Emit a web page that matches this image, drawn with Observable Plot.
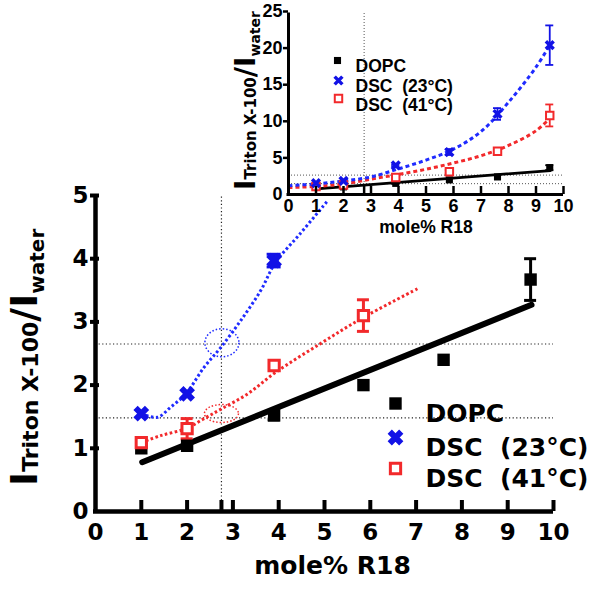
<!DOCTYPE html>
<html><head><meta charset="utf-8">
<script src="https://cdn.jsdelivr.net/npm/d3@7"></script>
<script src="https://cdn.jsdelivr.net/npm/@observablehq/plot@0.6"></script>
<style>
html,body{margin:0;padding:0;background:#fff;}
#wrap{position:relative;width:600px;height:589px;overflow:hidden;background:#fff;}
#wrap svg{position:absolute;}
</style></head><body><div id="wrap"></div>
<script>
// ---- data ----
const molePct   = [1, 2, 3.9, 5.85, 7.6, 9.5];
const dopcY     = [1.0, 1.04, 1.52, 2.0, 2.4, 3.67];
const dopcErr   = [0, 0, 0.07, 0, 0, 0.33];
const dsc23Y    = [1.55, 1.86, 3.97, 5.8, 11.0, 20.4];
const dsc23Err  = [0, 0, 0.1, 0.4, 0.8, 2.7];
const dsc41Y    = [1.09, 1.31, 2.31, 3.1, 5.9, 10.8];
const dsc41Err  = [0, 0.16, 0, 0.25, 0.2, 1.5];

// fitted lines as drawn in the figure
const dopcFitX  = [1.02, 9.52];
const dopcFitY  = [0.78, 3.27];
const dsc23MainFitX = [1.0, 1.35, 1.64, 1.97, 2.37, 2.74, 3.17, 3.61, 3.93, 4.45, 5.05];
const dsc23MainFitY = [1.55, 1.49, 1.65, 1.86, 2.28, 2.6, 3.02, 3.5, 3.94, 4.38, 4.9];
const dsc41MainFitX = [1.0, 1.42, 1.97, 2.37, 2.74, 3.32, 3.93, 4.92, 5.8, 7.07];
const dsc41MainFitY = [1.09, 1.2, 1.31, 1.47, 1.62, 1.86, 2.2, 2.66, 3.05, 3.54];
const insetFitX     = [0, 1, 2, 3, 4, 5, 6, 7, 8, 9, 9.5];
const dsc23InsetFitY = [1.2, 1.45, 1.85, 2.4, 3.5, 4.7, 6.2, 8.6, 12.6, 17.4, 20.4];
const dsc41InsetFitY = [0.95, 1.1, 1.45, 2.1, 2.75, 3.45, 4.3, 5.3, 6.7, 8.7, 10.4];

// guide lines / highlighted crossings
const guideY = [1.48, 2.65];
const guideX = [2.75];
const blueCross = [[2.76, 2.67]];
const redCross  = [[2.75, 1.55]];

// ticks
const mainXTicks  = [0, 1, 2, 3, 4, 5, 6, 7, 8, 9, 10];
const mainYTicks  = [0, 1, 2, 3, 4, 5];
const insetXTicks = [0, 1, 2, 3, 4, 5, 6, 7, 8, 9, 10];
const insetYTicks = [0, 5, 10, 15, 20, 25];

const legendLabels = ["DOPC", "DSC\u00a0\u00a0(23°C)", "DSC\u00a0\u00a0(41°C)"];
const xLabel = "mole% R18";

// ---- tables built from arrays ----
const pts = (ys, es) => molePct.map((x, i) => ({x, y: ys[i], e: es[i], lo: ys[i] - es[i], hi: ys[i] + es[i]}));
const dopc = pts(dopcY, dopcErr), dsc23 = pts(dsc23Y, dsc23Err), dsc41 = pts(dsc41Y, dsc41Err);
const xy = (xs, ys) => xs.map((x, i) => ({x, y: ys[i]}));
const dopcFit = xy(dopcFitX, dopcFitY);
const dsc23MainFit = xy(dsc23MainFitX, dsc23MainFitY);
const dsc41MainFit = xy(dsc41MainFitX, dsc41MainFitY);
const dsc23InsetFit = xy(insetFitX, dsc23InsetFitY);
const dsc41InsetFit = xy(insetFitX, dsc41InsetFitY);

const BLUE = "#1212e6", BLUEL = "#1f2bff", RED = "#f2292b";
const MF = "DejaVu Sans", IF = "Liberation Sans";

function ellipseSymbol(rx, ry) {
  const k = 0.5522847498;
  return {draw(ctx) {
    ctx.moveTo(rx, 0);
    ctx.bezierCurveTo(rx, ry * k, rx * k, ry, 0, ry);
    ctx.bezierCurveTo(-rx * k, ry, -rx, ry * k, -rx, 0);
    ctx.bezierCurveTo(-rx, -ry * k, -rx * k, -ry, 0, -ry);
    ctx.bezierCurveTo(rx * k, -ry, rx, -ry * k, rx, 0);
    ctx.closePath();
  }};
}

function errMarks(data, color, sw, cap, filt) {
  const d = data.filter(p => p.e > 0 && filt(p));
  return [
    Plot.ruleX(d, {x: "x", y1: "lo", y2: "hi", stroke: color, strokeWidth: sw}),
    Plot.ruleY(d, {y: "hi", x1: "x", x2: "x", insetLeft: -cap, insetRight: -cap, stroke: color, strokeWidth: sw}),
    Plot.ruleY(d, {y: "lo", x1: "x", x2: "x", insetLeft: -cap, insetRight: -cap, stroke: color, strokeWidth: sw})
  ];
}

const inMain = p => p.y <= 5;

// ---- main chart ----
const main = Plot.plot({
  width: 600, height: 589,
  marginLeft: 95, marginRight: 47, marginTop: 195, marginBottom: 78,
  x: {domain: [0, 10], axis: null},
  y: {domain: [0, 5], axis: null},
  style: {background: "white", overflow: "visible"},
  marks: [
    Plot.ruleY(guideY, {y: d => d, x1: 0, x2: 10, stroke: "#222", strokeWidth: 1.2, strokeDasharray: "1.2,2.4"}),
    Plot.ruleX(guideX, {x: d => d, y1: 0, y2: 5, stroke: "#222", strokeWidth: 1.2, strokeDasharray: "1.2,2.4"}),
    Plot.dot(blueCross, {x: d => d[0], y: d => d[1], symbol: ellipseSymbol(17, 14), fill: "none", stroke: BLUEL, strokeWidth: 1.5, strokeDasharray: "1.5,2"}),
    Plot.dot(redCross, {x: d => d[0], y: d => d[1], symbol: ellipseSymbol(17, 9), fill: "none", stroke: RED, strokeWidth: 1.5, strokeDasharray: "1.5,2"}),
    Plot.line(dopcFit, {x: "x", y: "y", stroke: "black", strokeWidth: 6}),
    Plot.line(dsc23MainFit, {x: "x", y: "y", curve: "catmull-rom", stroke: BLUEL, strokeWidth: 3, strokeLinecap: "butt", strokeDasharray: "2.6,2.4"}),
    Plot.line(dsc41MainFit, {x: "x", y: "y", curve: "catmull-rom", stroke: RED, strokeWidth: 3, strokeLinecap: "butt", strokeDasharray: "2.6,2.4"}),
    ...errMarks(dopc, "black", 3, 6, inMain),
    ...errMarks(dsc41, RED, 3, 6, inMain),
    ...errMarks(dsc23, BLUE, 3, 7, inMain),
    Plot.dot(dopc, {filter: inMain, x: "x", y: "y", symbol: "square", fill: "black", r: 7}),
    Plot.dot(dsc41, {filter: inMain, x: "x", y: "y", symbol: "square", fill: "white", stroke: RED, strokeWidth: 3, r: 5.8}),
    Plot.dot(dsc23, {filter: inMain, x: "x", y: "y", symbol: "times", stroke: BLUE, strokeWidth: 6, r: 5.3}),
    // axes
    Plot.ruleY([0], {x1: 0, x2: 10, stroke: "black", strokeWidth: 4.5, insetLeft: -2}),
    Plot.ruleX([0], {y1: 0, y2: 5, stroke: "black", strokeWidth: 4.5, insetBottom: -2}),
    Plot.ruleX(mainXTicks.filter(d => d > 0).concat(guideX), {x: d => d, y1: 0, y2: 0, insetTop: -11, stroke: "black", strokeWidth: 4}),
    Plot.ruleY(mainYTicks.filter(d => d > 0), {y: d => d, x1: 0, x2: 0, insetLeft: -5, insetRight: -4, stroke: "black", strokeWidth: 4}),
    Plot.text(mainYTicks, {x: 0, y: d => d, text: d => String(d), textAnchor: "end", dx: -7, fontSize: 23, fontWeight: "bold", fontFamily: MF, fill: "black"}),
    Plot.text(mainXTicks, {x: d => d, y: 0, text: d => String(d), dy: 21, fontSize: 23, fontWeight: "bold", fontFamily: MF, fill: "black"}),
    Plot.text([xLabel], {text: d => d, frameAnchor: "bottom", dx: 8, dy: 62, fontSize: 25, fontWeight: "bold", fontFamily: MF, fill: "black"}),
    // legend
    Plot.dot([0], {frameAnchor: "top-left", dx: 300, dy: 208, symbol: "square", fill: "black", r: 7}),
    Plot.dot([0], {frameAnchor: "top-left", dx: 300, dy: 242, symbol: "times", stroke: BLUE, strokeWidth: 6, r: 5.3}),
    Plot.dot([0], {frameAnchor: "top-left", dx: 300, dy: 273, symbol: "square", fill: "white", stroke: RED, strokeWidth: 3, r: 5.8}),
    Plot.text([legendLabels[0]], {text: d => d, frameAnchor: "top-left", dx: 330, dy: 209, textAnchor: "start", fontSize: 25, fontWeight: "bold", fontFamily: MF, fill: "black"}),
    Plot.text([legendLabels[1]], {text: d => d, frameAnchor: "top-left", dx: 330, dy: 243, textAnchor: "start", fontSize: 25, fontWeight: "bold", fontFamily: MF, fill: "black"}),
    Plot.text([legendLabels[2]], {text: d => d, frameAnchor: "top-left", dx: 330, dy: 274, textAnchor: "start", fontSize: 25, fontWeight: "bold", fontFamily: MF, fill: "black"})
  ]
});
main.style.left = "0px"; main.style.top = "0px";

function yLabel(svg, tx, ty, big, sub, sub2, drop) {
  const t = d3.select(svg).append("text")
    .attr("transform", `translate(${tx},${ty}) rotate(-90)`)
    .attr("text-anchor", "start").attr("font-family", "DejaVu Sans")
    .attr("font-weight", "bold").attr("fill", "black");
  t.append("tspan").attr("font-size", big).text("I");
  t.append("tspan").attr("font-size", sub).attr("dy", 1).text("Triton X-100");
  t.append("tspan").attr("font-size", big).attr("dy", -1).text("/I");
  t.append("tspan").attr("font-size", sub2).attr("dy", drop).text("water");
}
yLabel(main, 37, 486, 38, 22, 20, 7);

// ---- inset chart ----
const inset = Plot.plot({
  width: 375, height: 245,
  marginLeft: 63, marginRight: 37, marginTop: 11, marginBottom: 51,
  x: {domain: [0, 10], axis: null},
  y: {domain: [0, 25], axis: null},
  style: {background: "transparent", overflow: "visible"},
  marks: [
    Plot.ruleY(guideY, {y: d => d, x1: 0, x2: 10, stroke: "#555", strokeWidth: 1, strokeDasharray: "1,2"}),
    Plot.ruleX(guideX, {x: d => d, y1: 0, y2: 25, stroke: "#555", strokeWidth: 1, strokeDasharray: "1,2"}),
    Plot.line(dopcFit, {x: "x", y: "y", stroke: "black", strokeWidth: 2.8}),
    Plot.line(dsc41InsetFit, {x: "x", y: "y", curve: "catmull-rom", stroke: RED, strokeWidth: 3, strokeLinecap: "butt", strokeDasharray: "4,3"}),
    Plot.line(dsc23InsetFit, {x: "x", y: "y", curve: "catmull-rom", stroke: BLUEL, strokeWidth: 3, strokeLinecap: "butt", strokeDasharray: "4,3"}),
    ...errMarks(dopc, "black", 1.8, 4, () => true),
    ...errMarks(dsc41, RED, 1.8, 4, () => true),
    ...errMarks(dsc23, BLUE, 1.8, 4, () => true),
    Plot.dot(dopc, {x: "x", y: "y", symbol: "square", fill: "black", r: 4}),
    Plot.dot(dsc41, {x: "x", y: "y", symbol: "square", fill: "white", stroke: RED, strokeWidth: 2, r: 4.2}),
    Plot.dot(dsc23, {x: "x", y: "y", symbol: "times", stroke: BLUE, strokeWidth: 3.5, r: 3.6}),
    // axes
    Plot.ruleY([0], {x1: 0, x2: 10, stroke: "black", strokeWidth: 3, insetLeft: -1.5}),
    Plot.ruleX([0], {y1: 0, y2: 25, stroke: "black", strokeWidth: 3, insetBottom: -1.5}),
    Plot.ruleX(insetXTicks.filter(d => d > 0).concat(guideX), {x: d => d, y1: 0, y2: 0, insetTop: -8, stroke: "black", strokeWidth: 2.5}),
    Plot.ruleY(insetYTicks.filter(d => d > 0), {y: d => d, x1: 0, x2: 0, insetLeft: -5, stroke: "black", strokeWidth: 2.5}),
    Plot.text(insetYTicks, {x: 0, y: d => d, text: d => String(d), textAnchor: "end", dx: -6, fontSize: 18, fontWeight: "bold", fontFamily: IF, fill: "black"}),
    Plot.text(insetXTicks, {x: d => d, y: 0, text: d => String(d), dy: 12, fontSize: 18, fontWeight: "bold", fontFamily: IF, fill: "black"}),
    Plot.text([xLabel], {text: d => d, frameAnchor: "bottom", dy: 38, fontSize: 17.5, fontWeight: "bold", fontFamily: IF, fill: "black"}),
    // legend
    Plot.dot([0], {frameAnchor: "top-left", dx: 49, dy: 49, symbol: "square", fill: "black", r: 4}),
    Plot.dot([0], {frameAnchor: "top-left", dx: 50, dy: 69, symbol: "times", stroke: BLUE, strokeWidth: 3.5, r: 3.6}),
    Plot.dot([0], {frameAnchor: "top-left", dx: 50, dy: 87, symbol: "square", fill: "white", stroke: RED, strokeWidth: 2, r: 4.2}),
    Plot.text([legendLabels[0]], {text: d => d, frameAnchor: "top-left", dx: 67, dy: 48, textAnchor: "start", fontSize: 17.5, fontWeight: "bold", fontFamily: IF, fill: "black"}),
    Plot.text([legendLabels[1]], {text: d => d, frameAnchor: "top-left", dx: 67, dy: 68, textAnchor: "start", fontSize: 17.5, fontWeight: "bold", fontFamily: IF, fill: "black"}),
    Plot.text([legendLabels[2]], {text: d => d, frameAnchor: "top-left", dx: 67, dy: 87, textAnchor: "start", fontSize: 17.5, fontWeight: "bold", fontFamily: IF, fill: "black"})
  ]
});
inset.style.left = "225px"; inset.style.top = "0px";
yLabel(inset, 30, 190, 28, 15, 14, 5);

const wrap = document.getElementById("wrap");
wrap.appendChild(main);
wrap.appendChild(inset);
</script>
</body></html>
